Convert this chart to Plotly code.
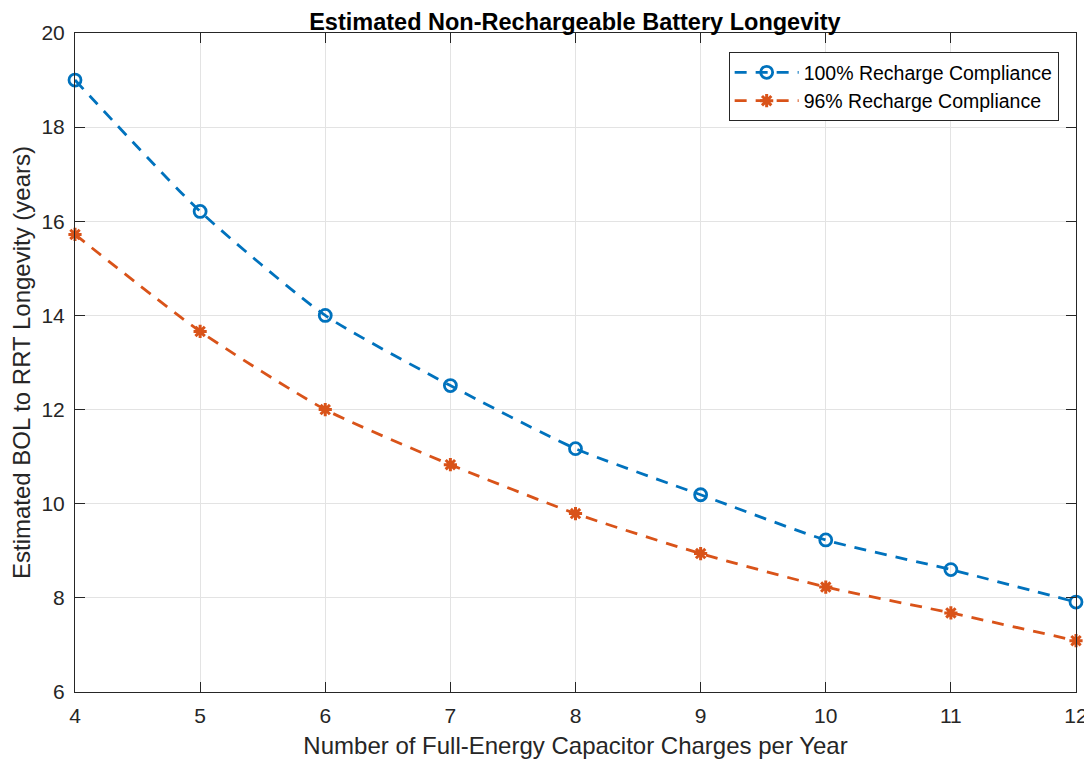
import plotly.graph_objects as go

x_vals = [4, 5, 6, 7, 8, 9, 10, 11, 12]
full_compliance = [19.0, 16.21, 14.0, 12.51, 11.17, 10.19, 9.23, 8.60, 7.91]
partial_compliance = [15.72, 13.66, 12.0, 10.83, 9.79, 8.94, 8.23, 7.68, 7.09]
series_names = ["100% Recharge Compliance", "96% Recharge Compliance"]
x_ticks = [4, 5, 6, 7, 8, 9, 10, 11, 12]
y_ticks = [6, 8, 10, 12, 14, 16, 18, 20]

BLUE = "#0072BD"
ORANGE = "#D95319"
FONT = "Liberation Sans, Arial, sans-serif"
AX = "#262626"

fig = go.Figure()
fig.add_trace(go.Scatter(
    x=x_vals, y=full_compliance, name=series_names[0], mode="lines+markers",
    line=dict(color=BLUE, width=2.8, dash="12px,9px", shape="spline", smoothing=0.6),
    marker=dict(symbol="circle-open", size=12, color=BLUE, line=dict(width=2.8, color=BLUE)),
    cliponaxis=False,
))
fig.add_trace(go.Scatter(
    x=x_vals, y=partial_compliance, name=series_names[1], mode="lines+markers",
    line=dict(color=ORANGE, width=2.8, dash="12px,9px", shape="spline", smoothing=0.6),
    marker=dict(symbol="asterisk-open", size=11, color=ORANGE, line=dict(width=3, color=ORANGE)),
    cliponaxis=False,
))

axis_common = dict(
    showgrid=True, gridcolor="#E3E3E3", gridwidth=1,
    showline=True, linecolor=AX, linewidth=1, mirror="ticks",
    ticks="inside", ticklen=10, tickcolor=AX, tickwidth=1,
    tickfont=dict(family=FONT, size=21, color=AX),
    zeroline=False, automargin=False,
)

# page has an 8px body margin; figure sized to fill the remaining window
fig.update_layout(
    width=1084, height=751,
    margin=dict(l=67, r=16, t=25, b=67),
    paper_bgcolor="white", plot_bgcolor="white",
    title=dict(text="<b>Estimated Non-Rechargeable Battery Longevity</b>",
               x=0.523, xanchor="center", y=0.9814, yanchor="middle",
               font=dict(family=FONT, size=23.5, color="black")),
    xaxis=dict(range=[4, 12], tickvals=x_ticks, ticklabelstandoff=5,
               title=dict(text="Number of Full-Energy Capacitor Charges per Year",
                          font=dict(family=FONT, size=24, color=AX), standoff=10),
               **axis_common),
    yaxis=dict(range=[6, 20], tickvals=y_ticks, ticklabelstandoff=5,
               title=dict(text="Estimated BOL to RRT Longevity (years)",
                          font=dict(family=FONT, size=24, color=AX), standoff=8),
               **axis_common),
    legend=dict(x=0.653, y=0.971, xanchor="left", yanchor="top",
                bgcolor="white", bordercolor=AX, borderwidth=1,
                font=dict(family=FONT, size=19.5, color="black"),
                itemwidth=64, tracegroupgap=0),
    showlegend=True,
)

fig.write_html("out.html")
